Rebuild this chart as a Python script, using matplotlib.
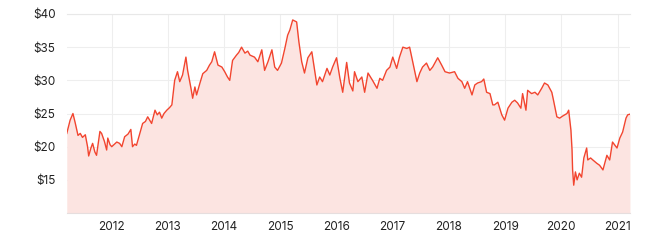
import numpy as np
import matplotlib
matplotlib.use("Agg")
import matplotlib.pyplot as plt

# share price (fractional year, USD)
dates = [
    2011.20, 2011.26, 2011.31, 2011.35, 2011.40, 2011.44, 2011.48, 2011.53, 2011.57, 2011.59,
    2011.63, 2011.66, 2011.70, 2011.73, 2011.79, 2011.82, 2011.87, 2011.91, 2011.93, 2011.97,
    2012.00, 2012.05, 2012.09, 2012.14, 2012.18, 2012.23, 2012.29, 2012.34, 2012.37, 2012.41, 2012.44,
    2012.50, 2012.55, 2012.60, 2012.64, 2012.71, 2012.77, 2012.81, 2012.85, 2012.89, 2012.93, 2012.98,
    2013.03, 2013.07, 2013.09, 2013.12, 2013.17, 2013.21, 2013.26, 2013.32, 2013.35, 2013.41, 2013.44,
    2013.48, 2013.51, 2013.57, 2013.62, 2013.69, 2013.74, 2013.78, 2013.83, 2013.89, 2013.96,
    2014.01, 2014.06, 2014.10, 2014.15, 2014.22, 2014.26, 2014.31, 2014.37, 2014.42,
    2014.46, 2014.54, 2014.60, 2014.67, 2014.72, 2014.78, 2014.85, 2014.90, 2014.95,
    2015.02, 2015.08, 2015.13, 2015.17, 2015.22, 2015.29, 2015.33, 2015.38, 2015.43,
    2015.49, 2015.56, 2015.59, 2015.65, 2015.70, 2015.75, 2015.83, 2015.88, 2015.93,
    2016.00, 2016.06, 2016.11, 2016.18, 2016.23, 2016.29, 2016.32, 2016.38, 2016.45,
    2016.50, 2016.56, 2016.64, 2016.72, 2016.77, 2016.82, 2016.89, 2016.95,
    2017.00, 2017.07, 2017.12, 2017.18, 2017.25, 2017.30, 2017.36, 2017.43,
    2017.48, 2017.53, 2017.60, 2017.66, 2017.71, 2017.80, 2017.87, 2017.93,
    2018.01, 2018.10, 2018.16, 2018.23, 2018.28, 2018.33, 2018.41, 2018.46, 2018.51,
    2018.58, 2018.62, 2018.67, 2018.73, 2018.78, 2018.81, 2018.87, 2018.94, 2018.99,
    2019.05, 2019.12, 2019.17, 2019.22, 2019.28, 2019.31, 2019.37, 2019.40, 2019.47,
    2019.53, 2019.58, 2019.65, 2019.70, 2019.76, 2019.83, 2019.86, 2019.92, 2019.97,
    2020.02, 2020.10, 2020.13, 2020.17, 2020.19, 2020.20, 2020.22, 2020.25, 2020.28, 2020.32, 2020.36, 2020.40,
    2020.45, 2020.47, 2020.52, 2020.56, 2020.63, 2020.68, 2020.74, 2020.81, 2020.86, 2020.91, 2020.99,
    2021.04, 2021.09, 2021.15, 2021.18, 2021.22,
]
prices = [
    22.0, 24.0, 25.0, 23.6, 21.7, 22.0, 21.4, 21.8, 20.0, 18.6,
    19.8, 20.5, 19.2, 18.7, 22.3, 22.0, 20.8, 19.5, 21.3, 20.3,
    20.0, 20.4, 20.7, 20.5, 20.0, 21.5, 21.9, 22.6, 20.0, 20.4, 20.2,
    22.0, 23.5, 23.8, 24.5, 23.5, 25.5, 24.8, 25.2, 24.3, 25.0, 25.5,
    25.9, 26.3, 27.8, 30.0, 31.3, 29.8, 30.8, 33.5, 31.5, 28.8, 27.3,
    29.0, 27.8, 29.6, 31.0, 31.5, 32.3, 32.8, 34.3, 32.3, 32.0,
    31.3, 30.5, 30.0, 33.0, 33.8, 34.2, 35.0, 34.1, 34.4,
    33.8, 33.5, 32.8, 34.6, 31.5, 32.8, 34.6, 32.0, 31.5,
    32.6, 34.8, 36.8, 37.6, 39.1, 38.8, 35.8, 32.8, 31.1,
    33.4, 34.3, 32.6, 29.3, 30.5, 29.8, 31.8, 30.8, 32.0,
    33.4, 30.3, 28.2, 32.7, 29.6, 28.4, 31.3, 29.8, 30.5,
    28.2, 31.1, 30.0, 28.8, 30.3, 30.0, 31.5, 32.0,
    33.5, 31.8, 33.5, 35.0, 34.8, 35.0, 32.6, 29.8,
    31.1, 32.0, 32.6, 31.5, 32.0, 33.4, 32.3, 31.3,
    31.1, 31.3, 30.3, 29.8, 28.8, 29.8, 27.8, 29.3, 29.6,
    29.8, 30.2, 28.2, 28.0, 26.3, 26.3, 26.7, 24.8, 24.0,
    25.8, 26.7, 27.0, 26.6, 25.8, 28.0, 25.5, 28.5, 28.0,
    28.2, 27.8, 28.8, 29.6, 29.3, 28.2, 27.0, 24.5, 24.3,
    24.6, 25.0, 25.5, 22.5, 19.5, 16.5, 14.2, 16.2, 15.0, 16.0, 15.4, 18.3,
    19.8, 18.0, 18.3, 18.0, 17.5, 17.2, 16.5, 18.7, 18.0, 20.7, 19.8,
    21.3, 22.2, 24.3, 24.8, 24.9,
]
year_ticks = list(range(2012, 2022))
price_ticks = [15, 20, 25, 30, 35, 40]

plt.rcParams["font.family"] = ["Inter", "DejaVu Sans"]
fig = plt.figure(figsize=(6.61, 2.41), dpi=100)
ax = fig.add_axes([0.101, 0.116, 0.852, 0.826])

ax.fill_between(dates, prices, 10, color="#fce4e1", lw=0)
ax.plot(dates, prices, color="#f2452f", lw=1.0)

ax.set_xlim(dates[0], dates[-1])
ax.set_ylim(10, 40)
ax.set_xticks(year_ticks)
ax.set_xticklabels([str(y) for y in year_ticks])
ax.set_yticks(price_ticks)
ax.set_yticklabels([f"${p}" for p in price_ticks])
ax.tick_params(length=0, labelsize=8.5, colors="#222222")
ax.tick_params(axis="x", pad=6)
ax.tick_params(axis="y", pad=8)
ax.grid(color="#eeeeee", lw=0.8)
ax.set_axisbelow(True)
for s in ["left", "right"]:
    ax.spines[s].set_visible(False)
ax.spines["top"].set_color("#e8e8e8")
ax.spines["bottom"].set_color("#e6dede")

fig.savefig("out.png", dpi=100)
